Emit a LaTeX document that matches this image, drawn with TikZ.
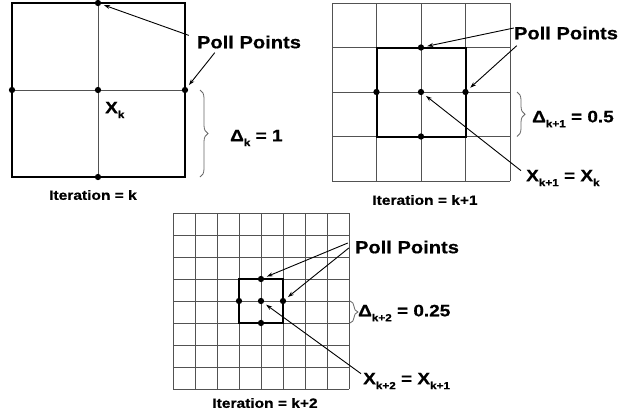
\documentclass[tikz,border=0pt]{standalone}
\usepackage{fontspec}
\setmainfont[FakeStretch=1.15, BoldFeatures={FakeBold=0.6}]{Liberation Sans}
\usetikzlibrary{arrows.meta,decorations.pathreplacing}
\newcommand{\idx}[1]{\raisebox{-0.3em}{\scalebox{0.62}{#1}}}

\begin{document}
\begin{tikzpicture}[
  x=1pt, y=-1pt,
  gridline/.style ={draw=black!68, line width=0.8pt},
  thickline/.style={draw=black, line width=2pt},
  dot/.style      ={circle, fill=black, inner sep=0pt, minimum size=6.3pt},
  lbl/.style      ={inner sep=1pt, font=\fontsize{16.5}{18}\selectfont\bfseries},
  polllbl/.style  ={inner sep=1pt, font=\fontsize{17.5}{19}\selectfont\bfseries},
  iterlbl/.style  ={inner sep=1pt, font=\fontsize{13.5}{15}\selectfont\bfseries},
  pointer/.style  ={-{Stealth[length=6pt,width=4pt]}, line width=0.9pt, shorten >=3pt},
  bracket/.style  ={draw=black!60, line width=0.8pt,
                    decoration={brace, amplitude=8pt}, decorate},
]
\useasboundingbox (0,0) rectangle (621,416);

% iteration k
\draw[gridline] (98,3) -- (98,177);
\draw[gridline] (12,90) -- (185,90);
\draw[thickline] (12,3) rectangle (185,177);
\node[dot] (k-top)   at (98,3)   {};
\node[dot] (k-left)  at (12,90)  {};
\node[dot] (k-mid)   at (98,90)  {};
\node[dot] (k-right) at (185,90) {};
\node[dot] (k-bot)   at (98,177) {};
\node[lbl, anchor=west] (k-x) at (104,110) {X\idx{k}};
\node[polllbl] (k-poll) at (249,42) {Poll Points};
\draw[pointer] ([xshift=-7pt,yshift=-1pt]k-poll.north west) -- (k-top);
\draw[pointer] ([xshift=19pt,yshift=-3pt]k-poll.south west) -- (k-right);
\coordinate (k-b1) at (200,90);
\coordinate (k-b2) at (200,177);
\draw[bracket] (k-b1) -- (k-b2);
\node[lbl, anchor=west] (k-delta) at (229,138) {Δ\idx{k} = 1};
\node[iterlbl] (k-iter) at (93,195) {Iteration = k};

% iteration k+1
\foreach \i in {0,...,4} {
  \draw[gridline] (332+44.5*\i,3) -- (332+44.5*\i,181);
  \draw[gridline] (332,3+44.5*\i) -- (510,3+44.5*\i);
}
\draw[thickline] (376.5,47.5) rectangle (465.5,136.5);
\node[dot] (k1-top)   at (421,47.5)  {};
\node[dot] (k1-left)  at (376.5,92)  {};
\node[dot] (k1-mid)   at (421,92)    {};
\node[dot] (k1-right) at (465.5,92)  {};
\node[dot] (k1-bot)   at (421,136.5) {};
\node[polllbl] (k1-poll) at (566,33) {Poll Points};
\draw[pointer] ([xshift=1pt,yshift=5pt]k1-poll.west) -- (k1-top);
\draw[pointer] ([xshift=4pt,yshift=-5pt]k1-poll.south west) -- (k1-right);
\coordinate (k1-b1) at (517,92);
\coordinate (k1-b2) at (517,136.5);
\draw[bracket] (k1-b1) -- (k1-b2);
\node[lbl, anchor=west] (k1-delta) at (531,119) {Δ\idx{k+1} = 0.5};
\node[lbl, anchor=west] (k1-x) at (525,178) {X\idx{k+1} = X\idx{k}};
\draw[pointer] ([xshift=-4pt,yshift=-2pt]k1-x.north west) -- (k1-mid);
\node[iterlbl] (k1-iter) at (425,200) {Iteration = k+1};

% iteration k+2
\foreach \i in {0,...,8} {
  \draw[gridline] (173+22*\i,213) -- (173+22*\i,389);
  \draw[gridline] (173,213+22*\i) -- (349,213+22*\i);
}
\draw[thickline] (239,279) rectangle (283,323);
\node[dot] (k2-top)   at (261,279) {};
\node[dot] (k2-left)  at (239,301) {};
\node[dot] (k2-mid)   at (261,301) {};
\node[dot] (k2-right) at (283,301) {};
\node[dot] (k2-bot)   at (261,323) {};
\node[polllbl] (k2-poll) at (407,247) {Poll Points};
\draw[pointer] ([xshift=-6pt,yshift=4pt]k2-poll.west) -- (k2-top);
\draw[pointer] ([xshift=-5pt,yshift=-1pt]k2-poll.west) -- (k2-right);
\coordinate (k2-b1) at (350,301);
\coordinate (k2-b2) at (350,323);
\draw[bracket] (k2-b1) -- (k2-b2);
\node[lbl, anchor=west] (k2-delta) at (357,313) {Δ\idx{k+2} = 0.25};
\node[lbl, anchor=west] (k2-x) at (362,381) {X\idx{k+2} = X\idx{k+1}};
\draw[pointer] ([xshift=-1pt,yshift=-2pt]k2-x.north west) -- (k2-mid);
\node[iterlbl] (k2-iter) at (265,403) {Iteration = k+2};

\end{tikzpicture}
\end{document}
